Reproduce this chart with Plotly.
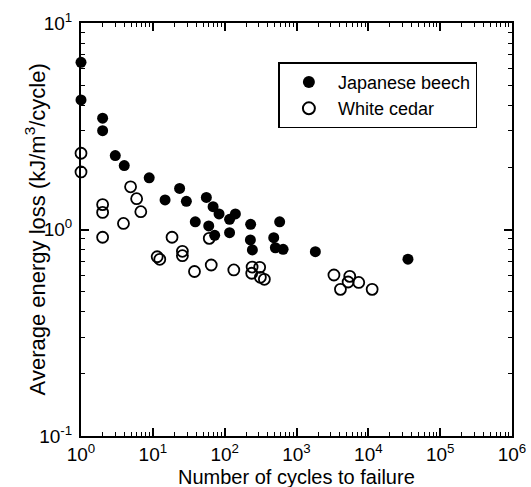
import plotly.graph_objects as go

# Japanese beech: cycles to failure and average energy loss (kJ/m^3/cycle)
beech_cycles = [1, 1, 2, 2, 3, 4, 8.9, 14.8, 23.6, 29.3, 39, 55.6, 69, 83.5, 60,
                72.6, 117, 141, 117, 230, 583, 228, 243, 482, 508, 651, 1830, 35600]
beech_loss = [6.45, 4.24, 3.46, 3.01, 2.28, 2.04, 1.78, 1.39, 1.58, 1.37, 1.09, 1.43,
              1.29, 1.19, 1.04, 0.937, 1.12, 1.19, 0.965, 1.06, 1.09, 0.89, 0.796,
              0.913, 0.816, 0.802, 0.781, 0.718]

# White cedar
cedar_cycles = [1, 1, 2, 2, 2, 3.9, 4.9, 5.95, 6.8, 18.5, 11.5, 12.5, 25.8, 25.8,
                38, 61, 65, 134, 241, 307, 238, 314, 357, 3320, 5510, 5230, 7350,
                4090, 11300]
cedar_loss = [2.34, 1.90, 1.32, 1.21, 0.917, 1.07, 1.61, 1.41, 1.22, 0.917, 0.738,
              0.717, 0.784, 0.747, 0.626, 0.906, 0.673, 0.637, 0.658, 0.656, 0.614,
              0.587, 0.574, 0.602, 0.593, 0.557, 0.554, 0.513, 0.513]

x_tickvals = [1, 10, 100, 1000, 10000, 100000, 1000000]
x_ticktext = ["10<sup>0</sup>", "10<sup>1</sup>", "10<sup>2</sup>", "10<sup>3</sup>",
              "10<sup>4</sup>", "10<sup>5</sup>", "10<sup>6</sup>"]
y_tickvals = [0.1, 1, 10]
y_ticktext = ["10<sup>-1</sup>", "10<sup>0</sup>", "10<sup>1</sup>"]

font_family = "Liberation Sans, Arial, sans-serif"

fig = go.Figure()
fig.add_trace(go.Scatter(
    x=beech_cycles, y=beech_loss, mode="markers", name="Japanese beech",
    marker=dict(symbol="circle", size=11, color="black", line=dict(width=0)),
    cliponaxis=False,
))
fig.add_trace(go.Scatter(
    x=cedar_cycles, y=cedar_loss, mode="markers", name="White cedar",
    marker=dict(symbol="circle-open", size=11, color="black", line=dict(width=1.8)),
    cliponaxis=False,
))

axis_common = dict(
    type="log",
    automargin=False,
    showgrid=False,
    zeroline=False,
    showline=True,
    linecolor="black",
    linewidth=2,
    mirror="ticks",
    ticks="inside",
    ticklen=8,
    tickwidth=1.5,
    tickcolor="black",
    tickfont=dict(family=font_family, size=19, color="black"),
    minor=dict(ticks="inside", ticklen=4, tickwidth=1, tickcolor="black",
               dtick="D1", showgrid=False),
)

fig.update_xaxes(
    **axis_common,
    range=[0, 6],
    tickvals=x_tickvals,
    ticktext=x_ticktext,
    ticklabelstandoff=0,
)
fig.update_yaxes(
    **axis_common,
    range=[-1, 1],
    tickvals=y_tickvals,
    ticktext=y_ticktext,
    ticklabelstandoff=3,
)

title_font = dict(family=font_family, color="black")

fig.update_layout(
    width=531,
    height=487,
    margin=dict(l=81, r=19, t=23, b=51),
    paper_bgcolor="white",
    plot_bgcolor="white",
    showlegend=True,
    legend=dict(
        x=0.458, y=0.905, xanchor="left", yanchor="top",
        bordercolor="black", borderwidth=1.5, bgcolor="white",
        font=dict(family=font_family, size=18, color="black"),
        itemsizing="constant", itemwidth=48, tracegroupgap=0,
    ),
    annotations=[
        dict(
            text="Average energy loss (kJ/m<sup>3</sup>/cycle)",
            xref="paper", yref="paper", x=-0.107, y=0.5,
            xanchor="center", yanchor="middle", textangle=-90, showarrow=False,
            font=dict(size=22, **title_font),
        ),
        dict(
            text="Number of cycles to failure",
            xref="paper", yref="paper", x=0.5, y=-0.1,
            xanchor="center", yanchor="middle", showarrow=False,
            font=dict(size=20, **title_font),
        ),
    ],
)

fig.write_html("out.html")
